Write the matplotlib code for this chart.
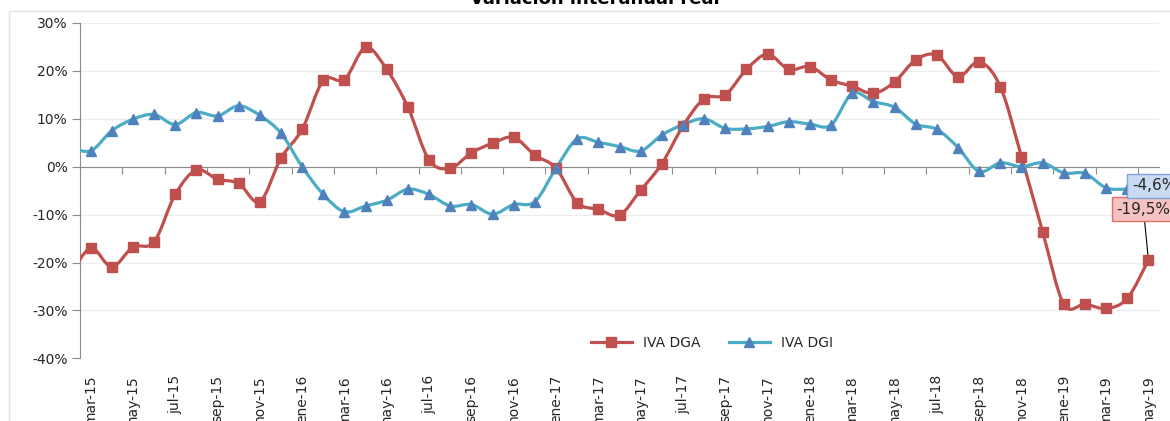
import numpy as np
import matplotlib
matplotlib.use("Agg")
import matplotlib.pyplot as plt
from matplotlib.path import Path
from matplotlib.patches import PathPatch, Rectangle

plt.rcParams['font.family'] = ['DejaVu Sans']

# meses feb-15 .. may-19 (feb-15 queda fuera del eje, igual que en el original)
meses_abr = ["ene", "feb", "mar", "abr", "may", "jun", "jul", "ago", "sep", "oct", "nov", "dic"]
meses = [f"{meses_abr[m]}-{a}" for a in range(15, 20) for m in range(12)][1:53]

iva_dga = [-23.0, -17.0, -20.9, -16.8, -15.7, -5.8, -0.7, -2.6, -3.5, -7.3, 1.8, 7.8,
           18.0, 18.2, 24.9, 20.3, 12.4, 1.4, -0.3, 2.9, 4.9, 6.1, 2.4,
           -0.3, -7.5, -8.9, -10.1, -4.9, 0.6, 8.5, 14.2, 15.0, 20.3, 23.5, 20.3,
           20.9, 18.1, 16.8, 15.3, 17.7, 22.3, 23.3, 18.8, 21.9, 16.7, 2.1, -13.6,
           -28.7, -28.7, -29.6, -27.5, -19.5]
iva_dgi = [4.2, 3.3, 7.5, 9.9, 10.9, 8.8, 11.3, 10.6, 12.7, 10.7, 7.0, 0.0,
           -5.8, -9.4, -8.2, -7.0, -4.7, -5.8, -8.2, -7.9, -9.9, -7.9, -7.3,
           -0.3, 5.8, 5.1, 4.2, 3.3, 6.6, 8.8, 10.0, 8.0, 7.9, 8.4, 9.4,
           8.9, 8.7, 15.3, 13.6, 12.4, 8.9, 7.8, 4.0, -1.0, 0.8, 0.0, 0.8,
           -1.3, -1.4, -4.4, -4.7, -4.6]

ROJO = "#C0504D"
TEAL = "#4BACC6"
AZUL = "#4F81BD"


def linea_suave(ax, x, y, color):
    # curva tipo Excel (bezier cubica por los puntos)
    x = np.asarray(x, float)
    y = np.asarray(y, float)
    pts = np.column_stack([x, y])
    verts = [pts[0]]
    codes = [Path.MOVETO]
    n = len(pts)
    for i in range(n - 1):
        p0 = pts[max(i - 1, 0)]
        p1 = pts[i]
        p2 = pts[i + 1]
        p3 = pts[min(i + 2, n - 1)]
        c1 = p1 + (p2 - p0) / 6
        c2 = p2 - (p3 - p1) / 6
        verts += [c1, c2, p2]
        codes += [Path.CURVE4] * 3
    ax.add_patch(PathPatch(Path(verts, codes), fill=False, edgecolor=color,
                           lw=2.3, capstyle="round", joinstyle="round", zorder=3))


fig = plt.figure(figsize=(11.7, 4.21), dpi=100)
ax = fig.add_axes([80 / 1170, 1 - 358.3 / 421, (1159 - 80) / 1170, (358.3 - 23) / 421])

# borde del area del grafico
fig.patches.append(Rectangle((9 / 1170, -0.1), 1.2, 1 - 11 / 421 + 0.1,
                             transform=fig.transFigure, fill=False,
                             edgecolor="#E4E4E4", lw=1.0))

x = np.arange(len(meses))
linea_suave(ax, x, iva_dga, ROJO)
linea_suave(ax, x, iva_dgi, TEAL)
ax.plot(x, iva_dga, ls="none", marker="s", ms=7, color=ROJO, mec=ROJO, zorder=4)
ax.plot(x, iva_dgi, ls="none", marker="^", ms=7.5, color=AZUL, mec=AZUL, zorder=4)

ax.set_xlim(0.5, len(meses) - 0.5)
ax.set_ylim(-40, 30)
ax.set_yticks(np.arange(-40, 31, 10))
ax.set_yticklabels([f"{v}%" for v in range(-40, 31, 10)])
ax.grid(axis="y", color="#EDEDED", lw=1)
ax.set_axisbelow(True)

for s in ["top", "right"]:
    ax.spines[s].set_visible(False)
ax.spines["left"].set_color("#8C8C8C")
ax.spines["bottom"].set_position(("data", 0))
ax.spines["bottom"].set_color("#8C8C8C")
ax.tick_params(axis="y", length=6, color="#8C8C8C", labelsize=10, labelcolor="#262626", pad=3)
ax.set_xticks(np.arange(0.5, len(meses), 2))
ax.tick_params(axis="x", length=5, color="#8C8C8C", labelbottom=False)

# etiquetas del eje x debajo del area
ax2 = ax.twiny()
ax2.set_xlim(ax.get_xlim())
ax2.xaxis.set_ticks_position("bottom")
ax2.xaxis.set_label_position("bottom")
pos = x[1::2]
ax2.set_xticks(pos)
ax2.set_xticklabels([meses[i] for i in pos], rotation=90, va="top", ha="center")
ax2.tick_params(axis="x", length=0, pad=12, labelsize=10, labelcolor="#262626")
for s in ax2.spines.values():
    s.set_visible(False)

# etiquetas del ultimo dato
ax.annotate("-4,6%", xy=(x[-1], iva_dgi[-1]), xytext=(-12, 2), textcoords="offset points",
            ha="left", va="center", fontsize=11, color="#262626", annotation_clip=False,
            bbox=dict(boxstyle="square,pad=0.3", fc="#C9DAF2", ec="#7FA3D6", lw=1), zorder=6)
ax.annotate("-19,5%", xy=(x[-1], iva_dga[-1]), xytext=(-23, 36.5), textcoords="offset points",
            ha="left", va="center", fontsize=11, color="#262626", annotation_clip=False,
            bbox=dict(boxstyle="square,pad=0.3", fc="#F4C3C1", ec="#E0706B", lw=1),
            arrowprops=dict(arrowstyle="-", color="black", lw=0.8, shrinkA=0, shrinkB=4), zorder=5)

leg_dga, = ax.plot([], [], color=ROJO, lw=2.3, marker="s", ms=7, label="IVA DGA")
leg_dgi, = ax.plot([], [], color=TEAL, lw=2.3, marker="^", ms=7.5, mfc=AZUL, mec=AZUL, label="IVA DGI")
fig.legend(handles=[leg_dga, leg_dgi], loc="center", ncol=2, frameon=False,
           bbox_to_anchor=(712 / 1170, 1 - 343 / 421), fontsize=10, handlelength=3,
           columnspacing=2.0, labelcolor="#262626")

fig.text(595 / 1170, 1 - 4 / 421, "Variación interanual real", ha="center", va="baseline",
         fontsize=13, fontweight="bold", color="black")

fig.savefig("out.png", dpi=100)
